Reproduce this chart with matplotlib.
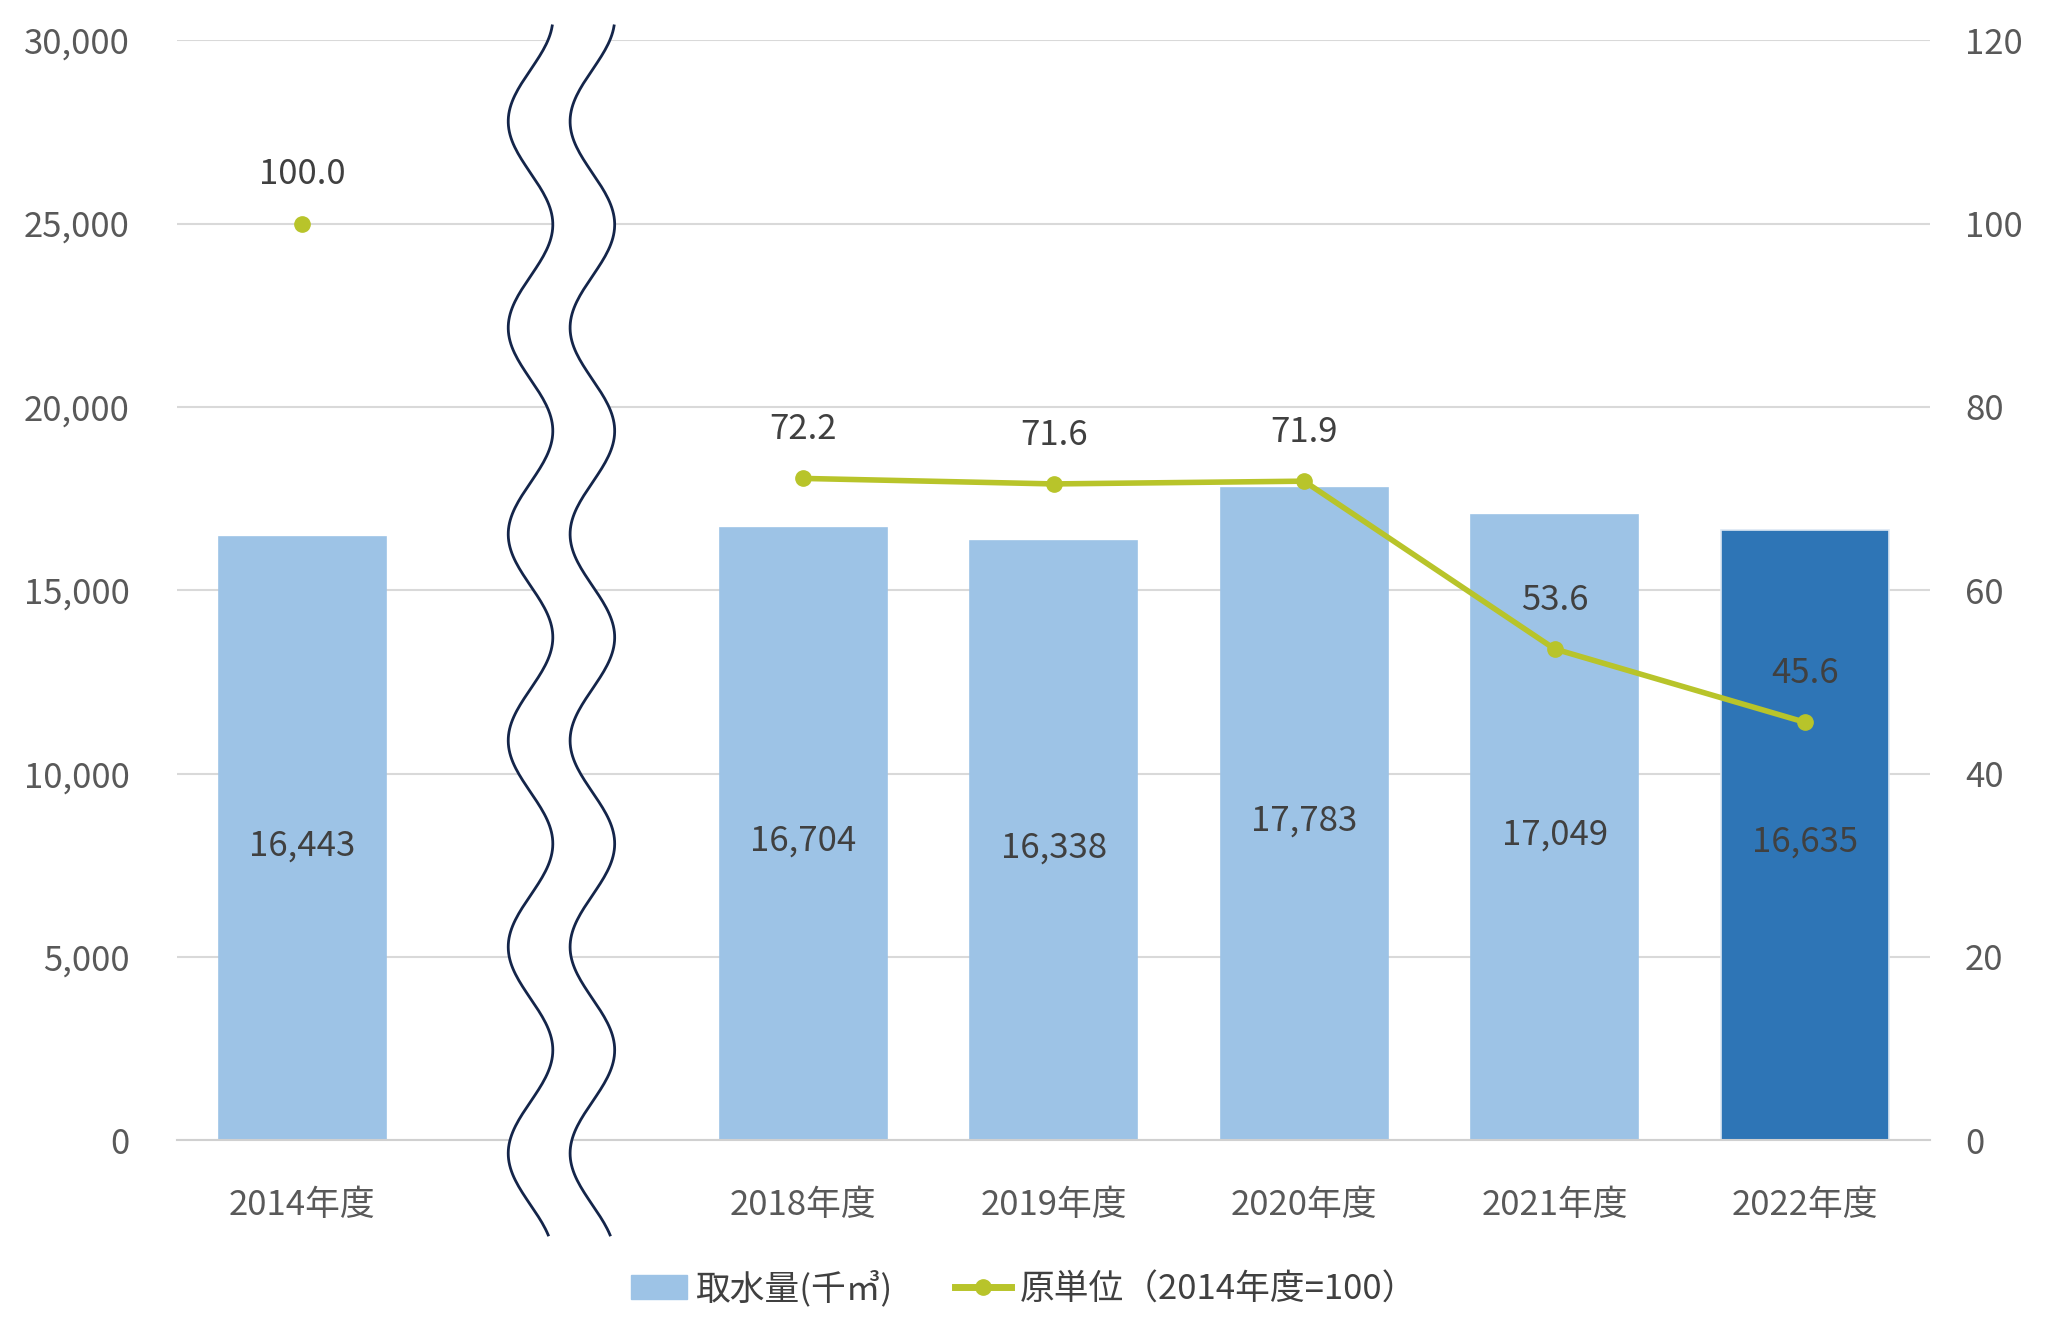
import numpy as np
import matplotlib
matplotlib.use("Agg")
import matplotlib.pyplot as plt
import matplotlib.transforms as mtransforms
from matplotlib.lines import Line2D
from matplotlib.patches import Patch

plt.rcParams['font.family'] = ['Noto Sans CJK JP', 'DejaVu Sans']

# データ
years = ["2014年度", "", "2018年度", "2019年度", "2020年度", "2021年度", "2022年度"]
water = [16443, None, 16704, 16338, 17783, 17049, 16635]   # 取水量(千㎥)
intensity = [100.0, None, 72.2, 71.6, 71.9, 53.6, 45.6]    # 原単位(2014年度=100)
bar_colors = ["#9DC3E6", None, "#9DC3E6", "#9DC3E6", "#9DC3E6", "#9DC3E6", "#2E75B6"]

LINE_C = "#B8C42A"
TICK_C = "#595959"
LABEL_C = "#404040"
FS = 25

fig = plt.figure(figsize=(20.48, 13.40), dpi=100)
ax = fig.add_axes([0.0865, 0.149, 0.856, 0.821])
ax2 = ax.twinx()

xs = np.arange(len(years))

# 棒グラフ
for i, (v, c) in enumerate(zip(water, bar_colors)):
    if v is None:
        continue
    ec = "#DDE8F3" if i == len(years) - 1 else c
    ax.bar(xs[i], v, width=0.667, color=c, edgecolor=ec, linewidth=1.2, zorder=2)
    ax.annotate(f"{v:,}", (xs[i], v / 2), xytext=(0, -5), textcoords="offset points",
                ha="center", va="center", fontsize=FS, color=LABEL_C, zorder=5)

ax.set_xlim(-0.5, len(years) - 0.5)
ax.set_ylim(0, 30000)
ax.set_yticks(range(0, 30001, 5000))
ax.set_yticklabels([f"{t:,}" for t in range(0, 30001, 5000)])
ax.grid(axis="y", color="#D9D9D9", linewidth=1.5, zorder=0)
ax.set_axisbelow(True)
ax.set_xticks(xs)
ax.set_xticklabels(years)
ax.tick_params(axis="y", length=0, pad=34, labelsize=FS, labelcolor=TICK_C)
ax.tick_params(axis="x", length=0, pad=34, labelsize=FS, labelcolor=TICK_C)
for s in ["top", "left", "right"]:
    ax.spines[s].set_visible(False)
ax.spines["bottom"].set_color("#D0D0D0")
ax.spines["bottom"].set_linewidth(1.5)

# 折れ線グラフ (2014年度は単独の点)
ax2.plot(xs[0], intensity[0], "o", color=LINE_C, markersize=11, zorder=4)
ax2.plot(xs[2:], intensity[2:], "-o", color=LINE_C, linewidth=4, markersize=11, zorder=4)
for i, v in enumerate(intensity):
    if v is None:
        continue
    ax2.annotate(f"{v:.1f}", (xs[i], v), xytext=(0, 35), textcoords="offset points",
                 ha="center", va="center", fontsize=FS, color=LABEL_C)
ax2.set_ylim(0, 120)
ax2.set_yticks(range(0, 121, 20))
ax2.tick_params(axis="y", length=0, pad=25, labelsize=FS, labelcolor=TICK_C)
for s in ax2.spines.values():
    s.set_visible(False)

# 省略記号(波線)
trans = mtransforms.blended_transform_factory(ax.transData, ax.transAxes)
yy = np.linspace(1.013, -0.086, 400)
wave = 0.089 * np.cos(2 * np.pi * (yy - 1.020) / 0.1876)
w1 = 0.911 + wave
w2 = 1.158 + wave
ax.fill_betweenx(yy, w1, w2, color="white", transform=trans, zorder=3, clip_on=False)
ax.plot(w1, yy, color="#14254A", linewidth=2, transform=trans, zorder=3, clip_on=False)
ax.plot(w2, yy, color="#14254A", linewidth=2, transform=trans, zorder=3, clip_on=False)

# 凡例
handles = [
    Patch(facecolor="#9DC3E6", edgecolor="#9DC3E6"),
    Line2D([0], [0], color=LINE_C, linewidth=5, marker="o", markersize=11),
]
labels = ["取水量(千㎥)", "原単位（2014年度=100）"]
fig.legend(handles, labels, loc="center", bbox_to_anchor=(0.5, 0.038), ncol=2,
           frameon=False, fontsize=FS, labelcolor=LABEL_C, handlelength=1.6,
           handleheight=0.7, columnspacing=1.8, handletextpad=0.25)

fig.savefig("out.png", dpi=100, facecolor="white")
